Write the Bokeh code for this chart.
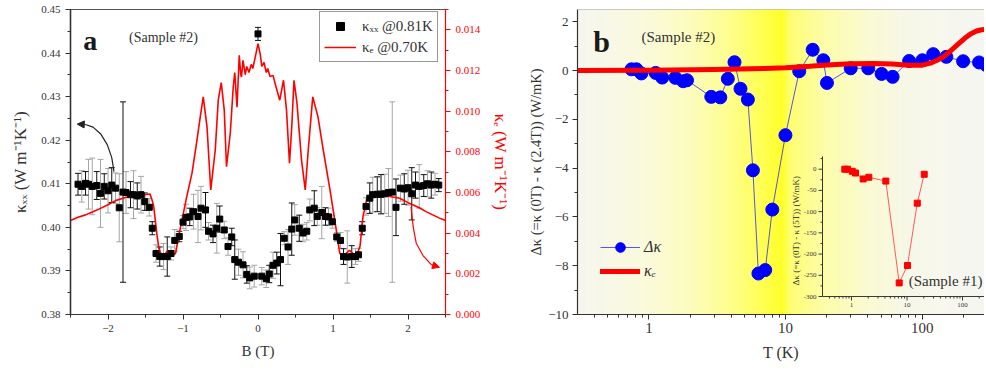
import numpy as np
from bokeh.plotting import figure
from bokeh.models import (Range1d, LinearAxis, LogScale, SingleIntervalTicker, FixedTicker,
                          NumeralTickFormatter, Whisker, TeeHead, ColumnDataSource, Legend,
                          LegendItem, Label, Arrow, NormalHead, Span)
from bokeh.layouts import row
from bokeh.embed import file_html
from bokeh.resources import INLINE
from bokeh.core.properties import value

FONT = "Liberation Serif"
TXT = "#333333"

# ---------------- panel a data ----------------
B_xx = [-2.40, -2.35, -2.30, -2.26, -2.21, -2.15, -2.10, -2.05, -2.00, -1.95, -1.90, -1.85, -1.80, -1.76,
        -1.70, -1.66, -1.61, -1.56, -1.51, -1.45, -1.41, -1.36, -1.31, -1.26, -1.21, -1.16, -1.11, -1.05,
        -1.00, -0.96, -0.91, -0.86, -0.80, -0.76, -0.70, -0.66, -0.60, -0.55, -0.51, -0.45, -0.40, -0.35,
        -0.31, -0.26, -0.20, -0.15, -0.11, -0.05,
        0.00,
        0.05, 0.11, 0.15, 0.20, 0.25, 0.30, 0.35, 0.40, 0.45, 0.49, 0.55, 0.60, 0.65, 0.69, 0.75, 0.79,
        0.85, 0.90, 0.94, 0.99, 1.05, 1.10, 1.14, 1.19, 1.25, 1.30, 1.34, 1.39, 1.44, 1.49, 1.53, 1.59,
        1.64, 1.69, 1.74, 1.79, 1.84, 1.90, 1.95, 2.00, 2.05, 2.10, 2.15, 2.21, 2.26, 2.31, 2.36, 2.41]
K_xx = [0.4099, 0.4094, 0.4101, 0.4099, 0.4094, 0.4096, 0.4078, 0.4094, 0.4084, 0.4097, 0.4090, 0.4045,
        0.4081, 0.4080, 0.4075, 0.4075, 0.4072, 0.4075, 0.4059, 0.4046, 0.3998, 0.3940, 0.3933, 0.3933,
        0.3933, 0.3940, 0.3970, 0.3979, 0.4012, 0.4023, 0.4024, 0.4036, 0.4025, 0.4044, 0.4040, 0.3991,
        0.3985, 0.3998, 0.4019, 0.3994, 0.3956, 0.3978, 0.3926, 0.3920, 0.3914, 0.3892, 0.3884, 0.3888,
        0.4444,
        0.3888, 0.3882, 0.3893, 0.3913, 0.3918, 0.3926, 0.3975, 0.3955, 0.3996, 0.4017, 0.3998, 0.3987,
        0.3991, 0.4040, 0.4044, 0.4025, 0.4034, 0.4025, 0.4024, 0.4013, 0.3978, 0.3970, 0.3933, 0.3932,
        0.3933, 0.3933, 0.3937, 0.3998, 0.4048, 0.4067, 0.4075, 0.4076, 0.4076, 0.4077, 0.4080, 0.4081,
        0.4046, 0.4090, 0.4088, 0.4091, 0.4077, 0.4097, 0.4094, 0.4096, 0.4100, 0.4097, 0.4099, 0.4097]
K_err = [0.0025, 0.0036, 0.0027, 0.0057, 0.0065, 0.0032, 0.0078, 0.0029, 0.0051, 0.0040, 0.0035, 0.0078,
         0.0207, 0.0048, 0.0030, 0.0055, 0.0030, 0.0042, 0.0020, 0.0020, 0.0015, 0.0020, 0.0022, 0.0030,
         0.0045, 0.0015, 0.0025, 0.0012, 0.0015, 0.0030, 0.0020, 0.0040, 0.0060, 0.0050, 0.0040, 0.0020,
         0.0020, 0.0057, 0.0030, 0.0020, 0.0020, 0.0020, 0.0045, 0.0030, 0.0030, 0.0020, 0.0025, 0.0025,
         0.0015,
         0.0020, 0.0020, 0.0020, 0.0030, 0.0025, 0.0060, 0.0015, 0.0040, 0.0060, 0.0035, 0.0030, 0.0020,
         0.0020, 0.0025, 0.0040, 0.0020, 0.0060, 0.0020, 0.0020, 0.0015, 0.0010, 0.0018, 0.0018, 0.0060,
         0.0025, 0.0018, 0.0015, 0.0015, 0.0020, 0.0035, 0.0040, 0.0040, 0.0045, 0.0045, 0.0055, 0.0207,
         0.0065, 0.0030, 0.0035, 0.0040, 0.0060, 0.0030, 0.0050, 0.0025, 0.0030, 0.0030, 0.0025, 0.0015]
# error-bar colour group: 0 = black bar, 1 = grey bar
K_err_group = [0, 1, 0, 1, 1, 0, 1, 0, 1, 0, 1, 1, 0, 1, 0, 1, 0, 1, 0, 1, 0, 1, 0, 1, 0, 1, 1, 0, 1, 1,
               0, 1, 1, 1, 0, 1, 0, 1, 0, 1, 1, 0, 0, 1, 1, 0, 1, 1,
               0,
               1, 1, 0, 1, 0, 0, 1, 1, 0, 1, 0, 1, 1, 1, 0, 1, 1, 0, 1, 1, 1, 1, 0, 1, 0, 1, 1, 0, 1, 0,
               1, 0, 0, 1, 1, 1, 0, 1, 0, 1, 0, 0, 1, 0, 1, 0, 1, 0]

B_e = [-2.50, -2.40, -2.30, -2.20, -2.10, -2.00, -1.90, -1.80, -1.70, -1.60, -1.50, -1.44, -1.41, -1.39,
       -1.35, -1.32, -1.30, -1.26, -1.21, -1.15, -1.10, -1.04, -0.95, -0.88, -0.82, -0.77, -0.73, -0.68,
       -0.63, -0.57, -0.53, -0.49, -0.45, -0.42, -0.37, -0.33, -0.31, -0.28, -0.25, -0.23, -0.22, -0.20,
       -0.17, -0.15, -0.12, -0.09, -0.07, -0.04, 0.00, 0.03, 0.05, 0.08, 0.11, 0.13, 0.16, 0.20, 0.24,
       0.29, 0.34, 0.38, 0.42, 0.45, 0.48, 0.52, 0.58, 0.63, 0.67, 0.73, 0.80, 0.87, 0.96, 1.05, 1.09,
       1.13, 1.22, 1.31, 1.36, 1.40, 1.45, 1.53, 1.60, 1.70, 1.76, 1.89, 2.00, 2.07, 2.15, 2.24, 2.33,
       2.42, 2.50]
K_e = [0.00462, 0.00478, 0.00490, 0.00505, 0.00522, 0.00540, 0.00560, 0.00572, 0.00583, 0.00588, 0.00590,
       0.00593, 0.00560, 0.00530, 0.00400, 0.00320, 0.00303, 0.00286, 0.00312, 0.00289, 0.00300, 0.00417,
       0.00580, 0.00695, 0.00842, 0.00972, 0.01070, 0.00923, 0.00613, 0.00809, 0.01054, 0.01140, 0.01005,
       0.00727, 0.00890, 0.01120, 0.01190, 0.01020, 0.01275, 0.01180, 0.01168, 0.01250, 0.01180, 0.01220,
       0.01190, 0.01230, 0.01210, 0.01260, 0.01332, 0.01280, 0.01220, 0.01240, 0.01190, 0.01210, 0.01170,
       0.01176, 0.01120, 0.01054, 0.01152, 0.01005, 0.00744, 0.00923, 0.01152, 0.01038, 0.00760, 0.00613,
       0.00809, 0.01070, 0.00972, 0.00809, 0.00613, 0.00400, 0.00302, 0.00286, 0.00315, 0.00286, 0.00335,
       0.00482, 0.00564, 0.00597, 0.00590, 0.00585, 0.00580, 0.00572, 0.00550, 0.00539, 0.00525, 0.00506,
       0.00490, 0.00474, 0.00462]

# annotation arrows (panel a)
ARROW_K_B = [-1.92, -1.95, -2.01, -2.10, -2.20, -2.30]
ARROW_K_Y = [0.4128, 0.4160, 0.4190, 0.4215, 0.4230, 0.4236]
ARROW_K_TIP = (-2.41, 0.4237)
ARROW_E_B = [2.04, 2.07, 2.11, 2.20, 2.31]
ARROW_E_Y = [0.0053, 0.0043, 0.0035, 0.0029, 0.00245]
ARROW_E_TIP = (2.42, 0.00232)

# ---------------- panel b data ----------------
T_dk = [0.745, 0.81, 0.88, 1.12, 1.25, 1.56, 1.78, 1.90, 2.86, 3.33, 3.78, 4.23, 4.68, 5.30, 5.77, 6.33,
        7.10, 8.00, 9.98, 12.6, 15.8, 18.9, 20.1, 30.0, 40.3, 50.5, 60.8, 80.3, 100.3, 120.5, 150.3,
        199.5, 261.0, 295.0]
dK = [0.05, 0.05, -0.12, -0.10, -0.29, -0.30, -0.44, -0.40, -1.08, -1.10, -0.34, 0.34, -0.75, -1.19,
      -4.09, -8.32, -8.18, -5.70, -2.65, -0.03, 0.85, 0.42, -0.51, 0.09, 0.09, -0.14, -0.26, 0.39, 0.42,
      0.67, 0.56, 0.38, 0.33, 0.22]
T_ke = [0.3, 1, 3, 7, 10, 15, 20, 30, 45, 60, 80, 100, 115, 130, 145, 165, 185, 205, 226, 250, 267, 286]
Ke_b = [0.0, 0.01, 0.04, 0.08, 0.11, 0.17, 0.23, 0.28, 0.29, 0.27, 0.22, 0.22, 0.30, 0.43, 0.58, 0.85,
        1.10, 1.32, 1.50, 1.62, 1.66, 1.68]

# inset (Sample #1)
T_in = [0.757, 0.85, 1.03, 1.18, 1.62, 2.05, 4.15, 7.23, 10.2, 15.3, 20.4]
dK_in = [0, 0, -5, -9, -23, -19, -28, -268, -227, -80, -12]
IN_Y_MAJOR = [0, -50, -100, -150, -200, -250, -300]
IN_Y_MINOR = [25, -25, -75, -125, -175, -225, -275]
IN_X_MAJOR = [1, 10, 100]
IN_X_LABELS = ["1", "10", "100"]
IN_X_MINOR = [0.4, 0.5, 0.6, 0.7, 0.8, 0.9, 2, 3, 4, 5, 6, 7, 8, 9, 20, 30, 40, 50, 60, 70, 80, 90, 200]

# background gradient stops (style)
BG_T = [0.3, 1.0, 2.0, 4.0, 7.0, 9.5, 11.0, 20.0, 40.0, 80.0, 300.0]
BG_RGB = [(246, 246, 240), (250, 250, 218), (252, 252, 190), (254, 254, 140), (255, 255, 80),
          (255, 255, 40), (254, 254, 115), (252, 252, 172), (250, 250, 210), (247, 247, 232),
          (246, 246, 242)]

# ---------------- layout constants ----------------
W1, W2, H = 523, 461, 370


def style_axis(ax, color=TXT, lsize="11px", alsize="15px", lw=1.2):
    ax.axis_line_color = color
    ax.axis_line_width = lw
    ax.major_tick_line_color = color
    ax.minor_tick_line_color = color
    ax.major_tick_out = 5
    ax.major_tick_in = 0
    ax.minor_tick_out = 3
    ax.minor_tick_in = 0
    ax.major_label_text_font = FONT
    ax.major_label_text_font_size = lsize
    ax.major_label_text_color = color
    ax.axis_label_text_font = FONT
    ax.axis_label_text_font_size = alsize
    ax.axis_label_text_font_style = "normal"
    ax.axis_label_text_color = color
    ax.major_label_standoff = 5


# ================= panel a =================
p1 = figure(width=W1, height=H, x_range=Range1d(-2.5, 2.5), y_range=Range1d(0.38, 0.45),
            output_backend="svg", toolbar_location=None,
            min_border_left=70, min_border_right=W1 - 70 - 375, min_border_top=9, min_border_bottom=H - 315)
p1.grid.visible = False
p1.outline_line_color = "#555555"
p1.background_fill_color = "white"
p1.extra_y_ranges = {"ke": Range1d(0, 0.015)}

xa = p1.xaxis[0]
xa.ticker = SingleIntervalTicker(interval=1, num_minor_ticks=2)
xa.axis_label = "B (T)"
style_axis(xa)
xa.axis_label_standoff = 8
ya = p1.yaxis[0]
ya.ticker = SingleIntervalTicker(interval=0.01, num_minor_ticks=2)
ya.formatter = NumeralTickFormatter(format="0.00")
ya.axis_label = "κₓₓ (W m⁻¹K⁻¹)"
style_axis(ya, lw=1.6, alsize="17px")
ya.axis_label_standoff = 8

ra = LinearAxis(y_range_name="ke", ticker=SingleIntervalTicker(interval=0.002, num_minor_ticks=2),
                formatter=NumeralTickFormatter(format="0.000"), axis_label="κₑ (W m⁻¹K⁻¹)")
style_axis(ra, color="#ff0000", lw=1.2, alsize="17px")
ra.axis_label_standoff = 8
p1.add_layout(ra, "right")

lo = [k - e for k, e in zip(K_xx, K_err)]
hi = [k + e for k, e in zip(K_xx, K_err)]
for grp, col in ((1, "#a6a6a6"), (0, "#111111")):
    idx = [i for i, g in enumerate(K_err_group) if g == grp]
    src = ColumnDataSource(dict(x=[B_xx[i] for i in idx], lo=[lo[i] for i in idx], hi=[hi[i] for i in idx]))
    w = Whisker(source=src, base="x", lower="lo", upper="hi", line_color=col, line_width=1,
                upper_head=TeeHead(size=6, line_color=col, line_width=1),
                lower_head=TeeHead(size=6, line_color=col, line_width=1))
    p1.add_layout(w)

ke_line = p1.line(B_e, K_e, y_range_name="ke", line_color="#ff0000", line_width=1.6)
sq = p1.scatter(B_xx, K_xx, marker="square", size=6, fill_color="black", line_color="black")

p1.line(ARROW_K_B, ARROW_K_Y, line_color="#222222", line_width=1.2)
p1.add_layout(Arrow(end=NormalHead(size=7, fill_color="#222222", line_color="#222222"),
                    x_start=ARROW_K_B[-1], y_start=ARROW_K_Y[-1], x_end=ARROW_K_TIP[0], y_end=ARROW_K_TIP[1],
                    line_color="#222222", line_width=1.2))
p1.line(ARROW_E_B, ARROW_E_Y, y_range_name="ke", line_color="#ff0000", line_width=1.2)
p1.add_layout(Arrow(end=NormalHead(size=7, fill_color="#ff0000", line_color="#ff0000"),
                    x_start=ARROW_E_B[-1], y_start=ARROW_E_Y[-1], x_end=ARROW_E_TIP[0], y_end=ARROW_E_TIP[1],
                    line_color="#ff0000", line_width=1.2, y_range_name="ke"))

p1.add_layout(Label(x=-2.33, y=0.4430, text="a", text_font=FONT, text_font_size="28px",
                    text_font_style="bold", text_color="#1a1a1a", text_baseline="alphabetic"))
p1.add_layout(Label(x=-1.72, y=0.4435, text="(Sample #2)", text_font=FONT, text_font_size="14px",
                    text_color=TXT, text_baseline="alphabetic"))

leg1 = Legend(items=[LegendItem(label="κₓₓ @0.81K", renderers=[sq]),
                     LegendItem(label="κₑ @0.70K", renderers=[ke_line])],
              location=(249, 252), border_line_color="#333333", border_line_width=1,
              background_fill_color="white", background_fill_alpha=1.0,
              label_text_font=FONT, label_text_font_size="15px", label_text_color=TXT,
              glyph_width=32, glyph_height=20, label_height=20, padding=4, spacing=1, margin=0,
              label_standoff=6)
p1.add_layout(leg1)

# ================= panel b =================
p2 = figure(width=W2, height=H, x_axis_type="log", x_range=Range1d(0.3, 286), y_range=Range1d(-10, 2.5),
            output_backend="svg", toolbar_location=None,
            min_border_left=54, min_border_right=0, min_border_top=9, min_border_bottom=H - 314)
p2.grid.visible = False
p2.outline_line_color = None
p2.background_fill_color = "white"

# background gradient
edges = np.logspace(np.log10(0.3), np.log10(290), 181)
mids = np.log10(np.sqrt(edges[:-1] * edges[1:]))
lt = np.log10(BG_T)
cols = []
for m in mids:
    rgb = [int(round(np.interp(m, lt, [c[j] for c in BG_RGB]))) for j in range(3)]
    cols.append("#%02x%02x%02x" % tuple(rgb))
p2.quad(left=edges[:-1], right=edges[1:], bottom=-11, top=3, fill_color=cols, line_color=cols, line_width=1)

p2.add_layout(Span(location=2.5, dimension="width", line_color="#9a9a9a", line_width=1))

xb = p2.xaxis[0]
xb.ticker = FixedTicker(ticks=[1, 10, 100],
                        minor_ticks=[0.4, 0.5, 0.6, 0.7, 0.8, 0.9, 2, 3, 4, 5, 6, 7, 8, 9,
                                     20, 30, 40, 50, 60, 70, 80, 90, 200])
xb.formatter = NumeralTickFormatter(format="0")
xb.axis_label = "T (K)"
style_axis(xb, lsize="15px", alsize="16px")
xb.major_label_standoff = 3
xb.axis_label_standoff = 8
yb = p2.yaxis[0]
yb.ticker = SingleIntervalTicker(interval=2, num_minor_ticks=2)
yb.axis_label = "Δκ (=κ (0T) - κ (2.4T)) (W/mK)"
style_axis(yb, lsize="13px", alsize="14.5px")
yb.major_label_standoff = 4
yb.axis_label_standoff = 1

# inset via extra ranges
FR_W = W2 - 54
FR_H = H - 9 - (H - 314)
IN_LEFT_PX, IN_BOTTOM_PX, IN_DEC_PX, IN_PX_PER_UNIT = 245.0, 18.0, 55.5, 127.3 / 300.0
ix_lo = np.log10(0.3) - IN_LEFT_PX / IN_DEC_PX
ix_hi = ix_lo + FR_W / IN_DEC_PX
iy_lo = -300 - IN_BOTTOM_PX / IN_PX_PER_UNIT
iy_hi = iy_lo + FR_H / IN_PX_PER_UNIT
p2.extra_x_ranges = {"ix": Range1d(10 ** ix_lo, 10 ** ix_hi)}
p2.extra_x_scales = {"ix": LogScale()}
p2.extra_y_ranges = {"iy": Range1d(iy_lo, iy_hi)}
IK = dict(x_range_name="ix", y_range_name="iy")
ICOL = "#3a3a3a"

p2.segment(x0=[0.3, 0.3], y0=[-300, -300], x1=[0.3, 2000], y1=[30, -300], line_color=ICOL, line_width=1, **IK)
p2.ray(x=[0.3] * len(IN_Y_MAJOR), y=IN_Y_MAJOR, length=4, length_units="screen", angle=np.pi,
       line_color=ICOL, line_width=1, **IK)
p2.ray(x=[0.3] * len(IN_Y_MINOR), y=IN_Y_MINOR, length=2, length_units="screen", angle=np.pi,
       line_color=ICOL, line_width=1, **IK)
p2.ray(x=IN_X_MAJOR, y=[-300] * len(IN_X_MAJOR), length=4, length_units="screen", angle=-np.pi / 2,
       line_color=ICOL, line_width=1, **IK)
p2.ray(x=IN_X_MINOR, y=[-300] * len(IN_X_MINOR), length=2, length_units="screen", angle=-np.pi / 2,
       line_color=ICOL, line_width=1, **IK)
p2.text(x=[0.3] * len(IN_Y_MAJOR), y=IN_Y_MAJOR, text=[str(v) for v in IN_Y_MAJOR], x_offset=-6,
        text_align="right", text_baseline="middle", text_font=value(FONT), text_font_size="7px",
        text_color=ICOL, **IK)
p2.text(x=IN_X_MAJOR, y=[-300] * 3, text=IN_X_LABELS, y_offset=6, text_align="center",
        text_baseline="top", text_font=value(FONT), text_font_size="7px", text_color=ICOL, **IK)
p2.text(x=[0.3], y=[-145], text=["Δκ (=κ (0T) - κ (5T)) (W/mK)"], angle=np.pi / 2, x_offset=-27,
        text_align="center", text_baseline="middle", text_font=value(FONT), text_font_size="9px",
        text_color=ICOL, **IK)
p2.line(T_in, dK_in, line_color="#ff5a5a", line_width=1, **IK)
p2.scatter(T_in, dK_in, marker="square", size=6, fill_color="#ff0000", line_color="#ff0000", **IK)

# main series
bl = p2.line(T_dk, dK, line_color="#2a2aff", line_width=1, line_alpha=0.8)
bc = p2.scatter(T_dk, dK, marker="circle", size=13, fill_color="#0000ff", line_color="#0000ff")
rl = p2.line(T_ke, Ke_b, line_color="#ff0000", line_width=5, line_cap="round", line_join="round")

p2.add_layout(Label(x=0.392, y=1.17, text="b", text_font=FONT, text_font_size="30px",
                    text_font_style="bold", text_color="#1a1a1a", text_baseline="alphabetic"))
p2.add_layout(Label(x=0.882, y=1.36, text="(Sample #2)", text_font=FONT, text_font_size="15px",
                    text_color=TXT, text_baseline="alphabetic"))
p2.add_layout(Label(x=79.7, y=-8.64, text="(Sample #1)", text_font=FONT, text_font_size="15px",
                    text_color=TXT, text_baseline="alphabetic"))

leg2 = Legend(items=[LegendItem(label="Δκ", renderers=[bl, bc]), LegendItem(label="κₑ", renderers=[rl])],
              location=(23, 31), glyph_width=40, glyph_height=24, label_height=24, spacing=0,
              padding=0, margin=0, border_line_color=None, background_fill_alpha=0,
              label_text_font=FONT, label_text_font_style="italic", label_text_font_size="16px",
              label_text_color=TXT, label_standoff=4)
p2.add_layout(leg2)

layout = row(p1, p2, spacing=0)
open("out.html", "w").write(file_html(layout, INLINE))
